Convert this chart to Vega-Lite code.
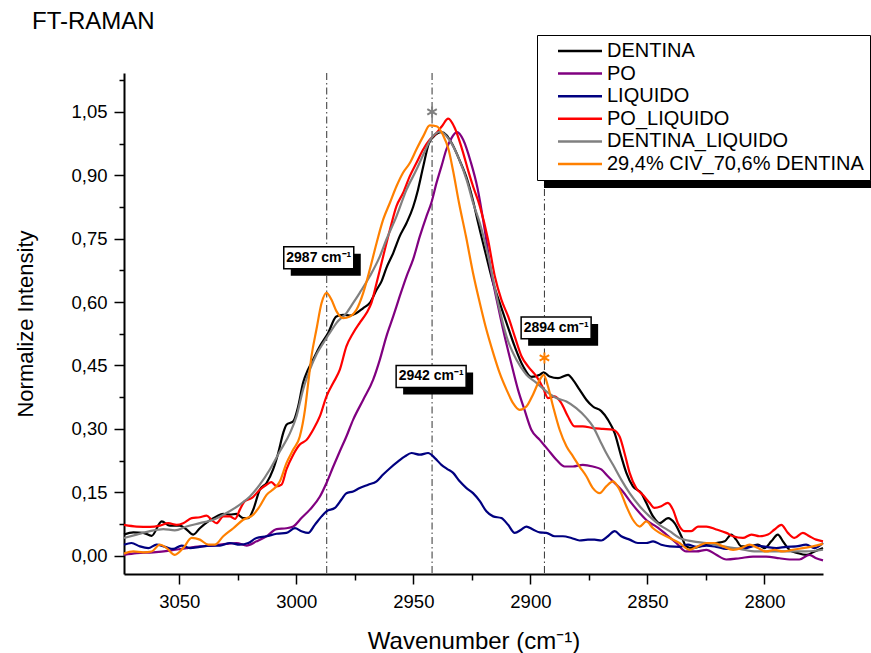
{
  "$schema": "https://vega.github.io/schema/vega-lite/v6.json",
  "width": 699,
  "height": 501,
  "autosize": {"type": "none"},
  "padding": {"left": 124, "top": 73, "right": 48, "bottom": 79},
  "background": "white",
  "config": {"view": {"stroke": null}, "font": "Liberation Sans"},
  "title": {"text": "FT-RAMAN", "anchor": "start", "frame": "group", "orient": "top", "dx": -92, "dy": 3, "offset": 4, "fontSize": 24, "fontWeight": "normal", "color": "black", "font": "Liberation Sans"},
  "datasets": {
    "series": [
      {"n": "DENTINA"}, {"n": "PO"}, {"n": "LIQUIDO"}, {"n": "PO_LIQUIDO"}, {"n": "DENTINA_LIQUIDO"}, {"n": "29,4% CIV_70,6% DENTINA"}
    ],
    "marks": [{"w": 2987}, {"w": 2942}, {"w": 2894}],
    "notes": [
      {"w": 2990.4, "i": 0.705, "t": "2987 cm⁻¹"},
      {"w": 2942.4, "i": 0.424, "t": "2942 cm⁻¹"},
      {"w": 2889.0, "i": 0.539, "t": "2894 cm⁻¹"}
    ],
    "spectra": [
      {"s":"DENTINA","w":3073.6,"i":0.050},{"s":"DENTINA","w":3069.6,"i":0.055},{"s":"DENTINA","w":3065.4,"i":0.054},{"s":"DENTINA","w":3061.8,"i":0.047},{"s":"DENTINA","w":3057.5,"i":0.081},{"s":"DENTINA","w":3054.0,"i":0.071},{"s":"DENTINA","w":3049.7,"i":0.071},{"s":"DENTINA","w":3046.9,"i":0.062},{"s":"DENTINA","w":3044.0,"i":0.050},{"s":"DENTINA","w":3041.2,"i":0.065},{"s":"DENTINA","w":3037.6,"i":0.081},{"s":"DENTINA","w":3034.1,"i":0.093},{"s":"DENTINA","w":3031.2,"i":0.099},{"s":"DENTINA","w":3028.4,"i":0.097},{"s":"DENTINA","w":3025.5,"i":0.099},{"s":"DENTINA","w":3022.7,"i":0.089},{"s":"DENTINA","w":3020.5,"i":0.089},{"s":"DENTINA","w":3018.4,"i":0.109},{"s":"DENTINA","w":3015.6,"i":0.156},{"s":"DENTINA","w":3012.7,"i":0.172},{"s":"DENTINA","w":3009.9,"i":0.204},{"s":"DENTINA","w":3007.7,"i":0.243},{"s":"DENTINA","w":3005.6,"i":0.290},{"s":"DENTINA","w":3004.2,"i":0.310},{"s":"DENTINA","w":3001.3,"i":0.318},{"s":"DENTINA","w":2999.2,"i":0.353},{"s":"DENTINA","w":2997.1,"i":0.409},{"s":"DENTINA","w":2995.0,"i":0.440},{"s":"DENTINA","w":2992.8,"i":0.464},{"s":"DENTINA","w":2990.0,"i":0.495},{"s":"DENTINA","w":2986.4,"i":0.527},{"s":"DENTINA","w":2982.9,"i":0.566},{"s":"DENTINA","w":2980.0,"i":0.570},{"s":"DENTINA","w":2977.1,"i":0.568},{"s":"DENTINA","w":2974.3,"i":0.574},{"s":"DENTINA","w":2971.4,"i":0.586},{"s":"DENTINA","w":2968.6,"i":0.598},{"s":"DENTINA","w":2965.7,"i":0.629},{"s":"DENTINA","w":2963.6,"i":0.649},{"s":"DENTINA","w":2961.5,"i":0.681},{"s":"DENTINA","w":2958.6,"i":0.716},{"s":"DENTINA","w":2955.8,"i":0.756},{"s":"DENTINA","w":2952.9,"i":0.787},{"s":"DENTINA","w":2950.1,"i":0.825},{"s":"DENTINA","w":2948.0,"i":0.866},{"s":"DENTINA","w":2945.8,"i":0.920},{"s":"DENTINA","w":2943.4,"i":0.975},{"s":"DENTINA","w":2940.5,"i":0.996},{"s":"DENTINA","w":2938.2,"i":1.002},{"s":"DENTINA","w":2935.8,"i":0.995},{"s":"DENTINA","w":2933.5,"i":0.975},{"s":"DENTINA","w":2930.2,"i":0.935},{"s":"DENTINA","w":2927.0,"i":0.890},{"s":"DENTINA","w":2924.5,"i":0.840},{"s":"DENTINA","w":2922.3,"i":0.787},{"s":"DENTINA","w":2918.8,"i":0.708},{"s":"DENTINA","w":2915.9,"i":0.645},{"s":"DENTINA","w":2913.1,"i":0.598},{"s":"DENTINA","w":2910.2,"i":0.551},{"s":"DENTINA","w":2906.7,"i":0.495},{"s":"DENTINA","w":2903.1,"i":0.448},{"s":"DENTINA","w":2899.6,"i":0.423},{"s":"DENTINA","w":2896.0,"i":0.428},{"s":"DENTINA","w":2894.3,"i":0.434},{"s":"DENTINA","w":2891.8,"i":0.424},{"s":"DENTINA","w":2888.2,"i":0.420},{"s":"DENTINA","w":2883.9,"i":0.428},{"s":"DENTINA","w":2881.8,"i":0.416},{"s":"DENTINA","w":2879.0,"i":0.393},{"s":"DENTINA","w":2876.1,"i":0.369},{"s":"DENTINA","w":2873.3,"i":0.353},{"s":"DENTINA","w":2869.7,"i":0.342},{"s":"DENTINA","w":2866.9,"i":0.322},{"s":"DENTINA","w":2864.0,"i":0.290},{"s":"DENTINA","w":2861.2,"i":0.235},{"s":"DENTINA","w":2859.0,"i":0.196},{"s":"DENTINA","w":2856.2,"i":0.164},{"s":"DENTINA","w":2852.6,"i":0.148},{"s":"DENTINA","w":2850.5,"i":0.125},{"s":"DENTINA","w":2847.6,"i":0.093},{"s":"DENTINA","w":2844.8,"i":0.077},{"s":"DENTINA","w":2841.2,"i":0.089},{"s":"DENTINA","w":2838.4,"i":0.077},{"s":"DENTINA","w":2835.5,"i":0.046},{"s":"DENTINA","w":2833.4,"i":0.022},{"s":"DENTINA","w":2830.6,"i":0.018},{"s":"DENTINA","w":2827.7,"i":0.022},{"s":"DENTINA","w":2824.8,"i":0.026},{"s":"DENTINA","w":2820.6,"i":0.030},{"s":"DENTINA","w":2817.0,"i":0.034},{"s":"DENTINA","w":2814.2,"i":0.050},{"s":"DENTINA","w":2812.1,"i":0.038},{"s":"DENTINA","w":2809.9,"i":0.022},{"s":"DENTINA","w":2806.4,"i":0.022},{"s":"DENTINA","w":2802.8,"i":0.026},{"s":"DENTINA","w":2800.0,"i":0.018},{"s":"DENTINA","w":2797.1,"i":0.034},{"s":"DENTINA","w":2794.3,"i":0.050},{"s":"DENTINA","w":2792.1,"i":0.034},{"s":"DENTINA","w":2789.3,"i":0.014},{"s":"DENTINA","w":2785.7,"i":0.006},{"s":"DENTINA","w":2782.2,"i":0.002},{"s":"DENTINA","w":2778.6,"i":0.010},{"s":"DENTINA","w":2775.0,"i":0.018},
      {"s":"PO","w":3073.6,"i":0.002},{"s":"PO","w":3068.2,"i":0.006},{"s":"PO","w":3061.1,"i":0.008},{"s":"PO","w":3054.0,"i":0.012},{"s":"PO","w":3046.9,"i":0.018},{"s":"PO","w":3041.2,"i":0.022},{"s":"PO","w":3035.5,"i":0.024},{"s":"PO","w":3029.8,"i":0.028},{"s":"PO","w":3025.5,"i":0.030},{"s":"PO","w":3021.2,"i":0.024},{"s":"PO","w":3017.0,"i":0.034},{"s":"PO","w":3012.7,"i":0.046},{"s":"PO","w":3008.4,"i":0.063},{"s":"PO","w":3004.2,"i":0.065},{"s":"PO","w":3001.3,"i":0.069},{"s":"PO","w":2997.8,"i":0.089},{"s":"PO","w":2994.2,"i":0.109},{"s":"PO","w":2989.9,"i":0.140},{"s":"PO","w":2987.1,"i":0.172},{"s":"PO","w":2984.2,"i":0.211},{"s":"PO","w":2981.4,"i":0.247},{"s":"PO","w":2978.6,"i":0.282},{"s":"PO","w":2975.7,"i":0.322},{"s":"PO","w":2971.4,"i":0.369},{"s":"PO","w":2967.2,"i":0.416},{"s":"PO","w":2964.3,"i":0.464},{"s":"PO","w":2961.5,"i":0.519},{"s":"PO","w":2958.6,"i":0.566},{"s":"PO","w":2955.8,"i":0.614},{"s":"PO","w":2952.9,"i":0.661},{"s":"PO","w":2950.1,"i":0.701},{"s":"PO","w":2947.2,"i":0.756},{"s":"PO","w":2944.4,"i":0.803},{"s":"PO","w":2942.3,"i":0.835},{"s":"PO","w":2940.1,"i":0.882},{"s":"PO","w":2938.0,"i":0.921},{"s":"PO","w":2935.9,"i":0.961},{"s":"PO","w":2933.7,"i":0.988},{"s":"PO","w":2931.3,"i":1.002},{"s":"PO","w":2928.7,"i":0.984},{"s":"PO","w":2925.5,"i":0.932},{"s":"PO","w":2922.6,"i":0.870},{"s":"PO","w":2919.5,"i":0.771},{"s":"PO","w":2916.7,"i":0.669},{"s":"PO","w":2913.8,"i":0.590},{"s":"PO","w":2911.0,"i":0.519},{"s":"PO","w":2908.2,"i":0.456},{"s":"PO","w":2905.3,"i":0.393},{"s":"PO","w":2902.5,"i":0.345},{"s":"PO","w":2899.6,"i":0.298},{"s":"PO","w":2896.0,"i":0.274},{"s":"PO","w":2892.5,"i":0.251},{"s":"PO","w":2888.9,"i":0.227},{"s":"PO","w":2885.4,"i":0.211},{"s":"PO","w":2881.8,"i":0.211},{"s":"PO","w":2877.6,"i":0.215},{"s":"PO","w":2873.3,"i":0.211},{"s":"PO","w":2869.7,"i":0.204},{"s":"PO","w":2866.9,"i":0.188},{"s":"PO","w":2864.0,"i":0.172},{"s":"PO","w":2860.5,"i":0.152},{"s":"PO","w":2856.9,"i":0.125},{"s":"PO","w":2853.3,"i":0.101},{"s":"PO","w":2849.8,"i":0.081},{"s":"PO","w":2846.2,"i":0.069},{"s":"PO","w":2841.9,"i":0.050},{"s":"PO","w":2837.7,"i":0.030},{"s":"PO","w":2833.4,"i":0.010},{"s":"PO","w":2829.1,"i":0.010},{"s":"PO","w":2824.8,"i":0.014},{"s":"PO","w":2820.6,"i":0.002},{"s":"PO","w":2816.3,"i":-0.009},{"s":"PO","w":2810.6,"i":-0.006},{"s":"PO","w":2804.9,"i":-0.002},{"s":"PO","w":2799.3,"i":-0.002},{"s":"PO","w":2793.6,"i":-0.006},{"s":"PO","w":2789.3,"i":-0.009},{"s":"PO","w":2785.1,"i":-0.009},{"s":"PO","w":2780.8,"i":0.002},{"s":"PO","w":2777.9,"i":-0.006},{"s":"PO","w":2775.0,"i":-0.011},
      {"s":"LIQUIDO","w":3073.6,"i":0.026},{"s":"LIQUIDO","w":3070.4,"i":0.030},{"s":"LIQUIDO","w":3066.8,"i":0.022},{"s":"LIQUIDO","w":3063.2,"i":0.018},{"s":"LIQUIDO","w":3059.7,"i":0.026},{"s":"LIQUIDO","w":3056.1,"i":0.021},{"s":"LIQUIDO","w":3052.6,"i":0.016},{"s":"LIQUIDO","w":3049.0,"i":0.024},{"s":"LIQUIDO","w":3045.4,"i":0.018},{"s":"LIQUIDO","w":3041.2,"i":0.021},{"s":"LIQUIDO","w":3036.9,"i":0.024},{"s":"LIQUIDO","w":3032.6,"i":0.024},{"s":"LIQUIDO","w":3028.4,"i":0.030},{"s":"LIQUIDO","w":3024.1,"i":0.026},{"s":"LIQUIDO","w":3020.5,"i":0.030},{"s":"LIQUIDO","w":3017.0,"i":0.042},{"s":"LIQUIDO","w":3012.7,"i":0.046},{"s":"LIQUIDO","w":3008.4,"i":0.052},{"s":"LIQUIDO","w":3004.2,"i":0.054},{"s":"LIQUIDO","w":3000.6,"i":0.065},{"s":"LIQUIDO","w":2997.8,"i":0.058},{"s":"LIQUIDO","w":2994.9,"i":0.054},{"s":"LIQUIDO","w":2992.1,"i":0.073},{"s":"LIQUIDO","w":2989.2,"i":0.093},{"s":"LIQUIDO","w":2987.1,"i":0.105},{"s":"LIQUIDO","w":2983.5,"i":0.113},{"s":"LIQUIDO","w":2980.7,"i":0.133},{"s":"LIQUIDO","w":2978.6,"i":0.148},{"s":"LIQUIDO","w":2975.7,"i":0.152},{"s":"LIQUIDO","w":2972.9,"i":0.160},{"s":"LIQUIDO","w":2969.3,"i":0.168},{"s":"LIQUIDO","w":2965.7,"i":0.176},{"s":"LIQUIDO","w":2962.9,"i":0.192},{"s":"LIQUIDO","w":2960.0,"i":0.207},{"s":"LIQUIDO","w":2956.5,"i":0.223},{"s":"LIQUIDO","w":2953.6,"i":0.235},{"s":"LIQUIDO","w":2950.8,"i":0.243},{"s":"LIQUIDO","w":2947.2,"i":0.239},{"s":"LIQUIDO","w":2943.7,"i":0.243},{"s":"LIQUIDO","w":2940.8,"i":0.231},{"s":"LIQUIDO","w":2938.0,"i":0.215},{"s":"LIQUIDO","w":2935.5,"i":0.205},{"s":"LIQUIDO","w":2933.0,"i":0.196},{"s":"LIQUIDO","w":2930.2,"i":0.176},{"s":"LIQUIDO","w":2927.3,"i":0.160},{"s":"LIQUIDO","w":2924.5,"i":0.148},{"s":"LIQUIDO","w":2921.6,"i":0.129},{"s":"LIQUIDO","w":2918.8,"i":0.105},{"s":"LIQUIDO","w":2915.9,"i":0.093},{"s":"LIQUIDO","w":2912.4,"i":0.089},{"s":"LIQUIDO","w":2909.5,"i":0.073},{"s":"LIQUIDO","w":2906.7,"i":0.054},{"s":"LIQUIDO","w":2903.8,"i":0.062},{"s":"LIQUIDO","w":2901.7,"i":0.069},{"s":"LIQUIDO","w":2898.9,"i":0.062},{"s":"LIQUIDO","w":2896.0,"i":0.055},{"s":"LIQUIDO","w":2893.2,"i":0.054},{"s":"LIQUIDO","w":2889.6,"i":0.046},{"s":"LIQUIDO","w":2886.1,"i":0.046},{"s":"LIQUIDO","w":2882.5,"i":0.042},{"s":"LIQUIDO","w":2879.0,"i":0.036},{"s":"LIQUIDO","w":2875.4,"i":0.038},{"s":"LIQUIDO","w":2872.6,"i":0.038},{"s":"LIQUIDO","w":2869.7,"i":0.036},{"s":"LIQUIDO","w":2866.9,"i":0.046},{"s":"LIQUIDO","w":2864.0,"i":0.058},{"s":"LIQUIDO","w":2861.2,"i":0.046},{"s":"LIQUIDO","w":2857.6,"i":0.038},{"s":"LIQUIDO","w":2854.1,"i":0.030},{"s":"LIQUIDO","w":2850.5,"i":0.030},{"s":"LIQUIDO","w":2847.6,"i":0.034},{"s":"LIQUIDO","w":2844.1,"i":0.026},{"s":"LIQUIDO","w":2840.5,"i":0.022},{"s":"LIQUIDO","w":2836.3,"i":0.021},{"s":"LIQUIDO","w":2832.7,"i":0.026},{"s":"LIQUIDO","w":2829.1,"i":0.021},{"s":"LIQUIDO","w":2824.8,"i":0.024},{"s":"LIQUIDO","w":2820.6,"i":0.021},{"s":"LIQUIDO","w":2816.3,"i":0.016},{"s":"LIQUIDO","w":2812.0,"i":0.016},{"s":"LIQUIDO","w":2807.8,"i":0.018},{"s":"LIQUIDO","w":2803.5,"i":0.024},{"s":"LIQUIDO","w":2799.3,"i":0.021},{"s":"LIQUIDO","w":2795.0,"i":0.018},{"s":"LIQUIDO","w":2790.7,"i":0.021},{"s":"LIQUIDO","w":2786.5,"i":0.022},{"s":"LIQUIDO","w":2782.2,"i":0.026},{"s":"LIQUIDO","w":2778.6,"i":0.018},{"s":"LIQUIDO","w":2775.0,"i":0.030},
      {"s":"PO_LIQUIDO","w":3073.6,"i":0.073},{"s":"PO_LIQUIDO","w":3068.2,"i":0.069},{"s":"PO_LIQUIDO","w":3062.5,"i":0.068},{"s":"PO_LIQUIDO","w":3058.3,"i":0.071},{"s":"PO_LIQUIDO","w":3054.7,"i":0.077},{"s":"PO_LIQUIDO","w":3051.1,"i":0.073},{"s":"PO_LIQUIDO","w":3048.3,"i":0.077},{"s":"PO_LIQUIDO","w":3044.7,"i":0.089},{"s":"PO_LIQUIDO","w":3041.2,"i":0.091},{"s":"PO_LIQUIDO","w":3038.3,"i":0.095},{"s":"PO_LIQUIDO","w":3036.2,"i":0.085},{"s":"PO_LIQUIDO","w":3034.1,"i":0.077},{"s":"PO_LIQUIDO","w":3031.2,"i":0.093},{"s":"PO_LIQUIDO","w":3028.4,"i":0.093},{"s":"PO_LIQUIDO","w":3026.2,"i":0.087},{"s":"PO_LIQUIDO","w":3024.1,"i":0.109},{"s":"PO_LIQUIDO","w":3022.0,"i":0.129},{"s":"PO_LIQUIDO","w":3019.1,"i":0.136},{"s":"PO_LIQUIDO","w":3015.6,"i":0.156},{"s":"PO_LIQUIDO","w":3012.7,"i":0.168},{"s":"PO_LIQUIDO","w":3010.6,"i":0.174},{"s":"PO_LIQUIDO","w":3008.4,"i":0.164},{"s":"PO_LIQUIDO","w":3006.3,"i":0.168},{"s":"PO_LIQUIDO","w":3004.2,"i":0.204},{"s":"PO_LIQUIDO","w":3001.3,"i":0.239},{"s":"PO_LIQUIDO","w":2998.5,"i":0.263},{"s":"PO_LIQUIDO","w":2995.6,"i":0.274},{"s":"PO_LIQUIDO","w":2992.8,"i":0.298},{"s":"PO_LIQUIDO","w":2989.9,"i":0.330},{"s":"PO_LIQUIDO","w":2987.1,"i":0.377},{"s":"PO_LIQUIDO","w":2984.2,"i":0.409},{"s":"PO_LIQUIDO","w":2981.4,"i":0.440},{"s":"PO_LIQUIDO","w":2978.6,"i":0.495},{"s":"PO_LIQUIDO","w":2975.7,"i":0.527},{"s":"PO_LIQUIDO","w":2972.9,"i":0.551},{"s":"PO_LIQUIDO","w":2970.0,"i":0.574},{"s":"PO_LIQUIDO","w":2967.9,"i":0.598},{"s":"PO_LIQUIDO","w":2965.7,"i":0.645},{"s":"PO_LIQUIDO","w":2962.9,"i":0.708},{"s":"PO_LIQUIDO","w":2960.0,"i":0.771},{"s":"PO_LIQUIDO","w":2957.2,"i":0.827},{"s":"PO_LIQUIDO","w":2954.4,"i":0.858},{"s":"PO_LIQUIDO","w":2951.5,"i":0.898},{"s":"PO_LIQUIDO","w":2948.7,"i":0.929},{"s":"PO_LIQUIDO","w":2945.8,"i":0.961},{"s":"PO_LIQUIDO","w":2943.0,"i":0.984},{"s":"PO_LIQUIDO","w":2940.1,"i":1.000},{"s":"PO_LIQUIDO","w":2937.8,"i":1.016},{"s":"PO_LIQUIDO","w":2935.1,"i":1.034},{"s":"PO_LIQUIDO","w":2932.3,"i":1.012},{"s":"PO_LIQUIDO","w":2929.2,"i":0.962},{"s":"PO_LIQUIDO","w":2926.5,"i":0.910},{"s":"PO_LIQUIDO","w":2924.5,"i":0.874},{"s":"PO_LIQUIDO","w":2921.6,"i":0.827},{"s":"PO_LIQUIDO","w":2918.1,"i":0.748},{"s":"PO_LIQUIDO","w":2915.2,"i":0.661},{"s":"PO_LIQUIDO","w":2912.4,"i":0.606},{"s":"PO_LIQUIDO","w":2909.5,"i":0.566},{"s":"PO_LIQUIDO","w":2906.7,"i":0.519},{"s":"PO_LIQUIDO","w":2903.8,"i":0.472},{"s":"PO_LIQUIDO","w":2901.0,"i":0.448},{"s":"PO_LIQUIDO","w":2897.4,"i":0.424},{"s":"PO_LIQUIDO","w":2894.6,"i":0.397},{"s":"PO_LIQUIDO","w":2892.5,"i":0.373},{"s":"PO_LIQUIDO","w":2889.6,"i":0.377},{"s":"PO_LIQUIDO","w":2886.8,"i":0.361},{"s":"PO_LIQUIDO","w":2884.0,"i":0.330},{"s":"PO_LIQUIDO","w":2881.1,"i":0.306},{"s":"PO_LIQUIDO","w":2877.6,"i":0.306},{"s":"PO_LIQUIDO","w":2873.3,"i":0.302},{"s":"PO_LIQUIDO","w":2869.0,"i":0.300},{"s":"PO_LIQUIDO","w":2864.7,"i":0.298},{"s":"PO_LIQUIDO","w":2861.9,"i":0.282},{"s":"PO_LIQUIDO","w":2859.8,"i":0.243},{"s":"PO_LIQUIDO","w":2857.6,"i":0.196},{"s":"PO_LIQUIDO","w":2854.8,"i":0.160},{"s":"PO_LIQUIDO","w":2852.0,"i":0.144},{"s":"PO_LIQUIDO","w":2849.1,"i":0.125},{"s":"PO_LIQUIDO","w":2847.0,"i":0.113},{"s":"PO_LIQUIDO","w":2844.1,"i":0.117},{"s":"PO_LIQUIDO","w":2841.3,"i":0.125},{"s":"PO_LIQUIDO","w":2839.1,"i":0.109},{"s":"PO_LIQUIDO","w":2837.0,"i":0.077},{"s":"PO_LIQUIDO","w":2834.1,"i":0.058},{"s":"PO_LIQUIDO","w":2831.3,"i":0.058},{"s":"PO_LIQUIDO","w":2828.4,"i":0.069},{"s":"PO_LIQUIDO","w":2824.8,"i":0.069},{"s":"PO_LIQUIDO","w":2820.6,"i":0.062},{"s":"PO_LIQUIDO","w":2816.3,"i":0.054},{"s":"PO_LIQUIDO","w":2813.4,"i":0.046},{"s":"PO_LIQUIDO","w":2809.2,"i":0.042},{"s":"PO_LIQUIDO","w":2805.6,"i":0.050},{"s":"PO_LIQUIDO","w":2802.1,"i":0.046},{"s":"PO_LIQUIDO","w":2798.5,"i":0.050},{"s":"PO_LIQUIDO","w":2795.7,"i":0.062},{"s":"PO_LIQUIDO","w":2792.8,"i":0.073},{"s":"PO_LIQUIDO","w":2790.0,"i":0.054},{"s":"PO_LIQUIDO","w":2787.2,"i":0.042},{"s":"PO_LIQUIDO","w":2783.6,"i":0.054},{"s":"PO_LIQUIDO","w":2780.8,"i":0.046},{"s":"PO_LIQUIDO","w":2777.9,"i":0.038},{"s":"PO_LIQUIDO","w":2775.0,"i":0.034},
      {"s":"DENTINA_LIQUIDO","w":3073.6,"i":0.042},{"s":"DENTINA_LIQUIDO","w":3068.2,"i":0.050},{"s":"DENTINA_LIQUIDO","w":3062.5,"i":0.058},{"s":"DENTINA_LIQUIDO","w":3056.8,"i":0.063},{"s":"DENTINA_LIQUIDO","w":3051.9,"i":0.060},{"s":"DENTINA_LIQUIDO","w":3046.9,"i":0.069},{"s":"DENTINA_LIQUIDO","w":3041.2,"i":0.077},{"s":"DENTINA_LIQUIDO","w":3035.5,"i":0.085},{"s":"DENTINA_LIQUIDO","w":3029.8,"i":0.101},{"s":"DENTINA_LIQUIDO","w":3024.1,"i":0.121},{"s":"DENTINA_LIQUIDO","w":3019.8,"i":0.140},{"s":"DENTINA_LIQUIDO","w":3015.6,"i":0.168},{"s":"DENTINA_LIQUIDO","w":3011.3,"i":0.204},{"s":"DENTINA_LIQUIDO","w":3007.0,"i":0.247},{"s":"DENTINA_LIQUIDO","w":3002.7,"i":0.290},{"s":"DENTINA_LIQUIDO","w":2999.9,"i":0.330},{"s":"DENTINA_LIQUIDO","w":2997.1,"i":0.393},{"s":"DENTINA_LIQUIDO","w":2994.2,"i":0.440},{"s":"DENTINA_LIQUIDO","w":2991.4,"i":0.476},{"s":"DENTINA_LIQUIDO","w":2988.5,"i":0.503},{"s":"DENTINA_LIQUIDO","w":2985.7,"i":0.527},{"s":"DENTINA_LIQUIDO","w":2982.8,"i":0.551},{"s":"DENTINA_LIQUIDO","w":2978.6,"i":0.574},{"s":"DENTINA_LIQUIDO","w":2975.7,"i":0.598},{"s":"DENTINA_LIQUIDO","w":2972.9,"i":0.622},{"s":"DENTINA_LIQUIDO","w":2968.6,"i":0.661},{"s":"DENTINA_LIQUIDO","w":2964.3,"i":0.708},{"s":"DENTINA_LIQUIDO","w":2961.5,"i":0.748},{"s":"DENTINA_LIQUIDO","w":2957.2,"i":0.803},{"s":"DENTINA_LIQUIDO","w":2952.9,"i":0.866},{"s":"DENTINA_LIQUIDO","w":2948.7,"i":0.913},{"s":"DENTINA_LIQUIDO","w":2945.1,"i":0.957},{"s":"DENTINA_LIQUIDO","w":2942.3,"i":0.988},{"s":"DENTINA_LIQUIDO","w":2938.5,"i":1.003},{"s":"DENTINA_LIQUIDO","w":2934.4,"i":0.982},{"s":"DENTINA_LIQUIDO","w":2930.6,"i":0.940},{"s":"DENTINA_LIQUIDO","w":2927.0,"i":0.885},{"s":"DENTINA_LIQUIDO","w":2924.5,"i":0.835},{"s":"DENTINA_LIQUIDO","w":2921.6,"i":0.787},{"s":"DENTINA_LIQUIDO","w":2917.4,"i":0.693},{"s":"DENTINA_LIQUIDO","w":2913.8,"i":0.598},{"s":"DENTINA_LIQUIDO","w":2910.2,"i":0.519},{"s":"DENTINA_LIQUIDO","w":2906.0,"i":0.464},{"s":"DENTINA_LIQUIDO","w":2901.7,"i":0.428},{"s":"DENTINA_LIQUIDO","w":2897.4,"i":0.409},{"s":"DENTINA_LIQUIDO","w":2893.2,"i":0.389},{"s":"DENTINA_LIQUIDO","w":2888.9,"i":0.373},{"s":"DENTINA_LIQUIDO","w":2884.6,"i":0.365},{"s":"DENTINA_LIQUIDO","w":2880.4,"i":0.349},{"s":"DENTINA_LIQUIDO","w":2876.1,"i":0.326},{"s":"DENTINA_LIQUIDO","w":2873.3,"i":0.306},{"s":"DENTINA_LIQUIDO","w":2870.4,"i":0.274},{"s":"DENTINA_LIQUIDO","w":2867.6,"i":0.243},{"s":"DENTINA_LIQUIDO","w":2864.7,"i":0.215},{"s":"DENTINA_LIQUIDO","w":2861.2,"i":0.180},{"s":"DENTINA_LIQUIDO","w":2857.6,"i":0.148},{"s":"DENTINA_LIQUIDO","w":2853.3,"i":0.117},{"s":"DENTINA_LIQUIDO","w":2849.1,"i":0.093},{"s":"DENTINA_LIQUIDO","w":2844.8,"i":0.073},{"s":"DENTINA_LIQUIDO","w":2840.5,"i":0.058},{"s":"DENTINA_LIQUIDO","w":2836.3,"i":0.042},{"s":"DENTINA_LIQUIDO","w":2830.6,"i":0.034},{"s":"DENTINA_LIQUIDO","w":2824.8,"i":0.030},{"s":"DENTINA_LIQUIDO","w":2817.7,"i":0.022},{"s":"DENTINA_LIQUIDO","w":2810.6,"i":0.016},{"s":"DENTINA_LIQUIDO","w":2803.5,"i":0.010},{"s":"DENTINA_LIQUIDO","w":2796.4,"i":0.010},{"s":"DENTINA_LIQUIDO","w":2789.3,"i":0.010},{"s":"DENTINA_LIQUIDO","w":2782.2,"i":0.010},{"s":"DENTINA_LIQUIDO","w":2775.0,"i":0.014},
      {"s":"29,4% CIV_70,6% DENTINA","w":3073.6,"i":0.005},{"s":"29,4% CIV_70,6% DENTINA","w":3069.6,"i":0.010},{"s":"29,4% CIV_70,6% DENTINA","w":3065.4,"i":0.008},{"s":"29,4% CIV_70,6% DENTINA","w":3061.8,"i":0.010},{"s":"29,4% CIV_70,6% DENTINA","w":3058.3,"i":0.026},{"s":"29,4% CIV_70,6% DENTINA","w":3055.4,"i":0.018},{"s":"29,4% CIV_70,6% DENTINA","w":3051.9,"i":0.002},{"s":"29,4% CIV_70,6% DENTINA","w":3048.3,"i":0.018},{"s":"29,4% CIV_70,6% DENTINA","w":3044.7,"i":0.042},{"s":"29,4% CIV_70,6% DENTINA","w":3041.2,"i":0.038},{"s":"29,4% CIV_70,6% DENTINA","w":3037.6,"i":0.026},{"s":"29,4% CIV_70,6% DENTINA","w":3034.8,"i":0.026},{"s":"29,4% CIV_70,6% DENTINA","w":3031.2,"i":0.046},{"s":"29,4% CIV_70,6% DENTINA","w":3026.9,"i":0.065},{"s":"29,4% CIV_70,6% DENTINA","w":3022.7,"i":0.085},{"s":"29,4% CIV_70,6% DENTINA","w":3018.4,"i":0.097},{"s":"29,4% CIV_70,6% DENTINA","w":3015.6,"i":0.117},{"s":"29,4% CIV_70,6% DENTINA","w":3012.7,"i":0.144},{"s":"29,4% CIV_70,6% DENTINA","w":3009.2,"i":0.160},{"s":"29,4% CIV_70,6% DENTINA","w":3007.0,"i":0.176},{"s":"29,4% CIV_70,6% DENTINA","w":3004.2,"i":0.219},{"s":"29,4% CIV_70,6% DENTINA","w":3001.3,"i":0.251},{"s":"29,4% CIV_70,6% DENTINA","w":2998.5,"i":0.282},{"s":"29,4% CIV_70,6% DENTINA","w":2996.3,"i":0.345},{"s":"29,4% CIV_70,6% DENTINA","w":2994.9,"i":0.409},{"s":"29,4% CIV_70,6% DENTINA","w":2993.5,"i":0.472},{"s":"29,4% CIV_70,6% DENTINA","w":2991.4,"i":0.535},{"s":"29,4% CIV_70,6% DENTINA","w":2989.2,"i":0.598},{"s":"29,4% CIV_70,6% DENTINA","w":2987.1,"i":0.622},{"s":"29,4% CIV_70,6% DENTINA","w":2985.0,"i":0.606},{"s":"29,4% CIV_70,6% DENTINA","w":2982.8,"i":0.578},{"s":"29,4% CIV_70,6% DENTINA","w":2980.0,"i":0.562},{"s":"29,4% CIV_70,6% DENTINA","w":2977.1,"i":0.566},{"s":"29,4% CIV_70,6% DENTINA","w":2974.3,"i":0.582},{"s":"29,4% CIV_70,6% DENTINA","w":2971.4,"i":0.622},{"s":"29,4% CIV_70,6% DENTINA","w":2968.6,"i":0.677},{"s":"29,4% CIV_70,6% DENTINA","w":2965.7,"i":0.740},{"s":"29,4% CIV_70,6% DENTINA","w":2962.9,"i":0.795},{"s":"29,4% CIV_70,6% DENTINA","w":2960.0,"i":0.835},{"s":"29,4% CIV_70,6% DENTINA","w":2957.2,"i":0.874},{"s":"29,4% CIV_70,6% DENTINA","w":2954.4,"i":0.906},{"s":"29,4% CIV_70,6% DENTINA","w":2951.5,"i":0.929},{"s":"29,4% CIV_70,6% DENTINA","w":2948.7,"i":0.961},{"s":"29,4% CIV_70,6% DENTINA","w":2945.8,"i":0.992},{"s":"29,4% CIV_70,6% DENTINA","w":2943.0,"i":1.018},{"s":"29,4% CIV_70,6% DENTINA","w":2940.1,"i":1.016},{"s":"29,4% CIV_70,6% DENTINA","w":2937.3,"i":0.995},{"s":"29,4% CIV_70,6% DENTINA","w":2935.0,"i":0.962},{"s":"29,4% CIV_70,6% DENTINA","w":2933.0,"i":0.910},{"s":"29,4% CIV_70,6% DENTINA","w":2930.5,"i":0.835},{"s":"29,4% CIV_70,6% DENTINA","w":2927.5,"i":0.755},{"s":"29,4% CIV_70,6% DENTINA","w":2924.5,"i":0.669},{"s":"29,4% CIV_70,6% DENTINA","w":2921.6,"i":0.598},{"s":"29,4% CIV_70,6% DENTINA","w":2918.8,"i":0.535},{"s":"29,4% CIV_70,6% DENTINA","w":2915.9,"i":0.480},{"s":"29,4% CIV_70,6% DENTINA","w":2913.1,"i":0.432},{"s":"29,4% CIV_70,6% DENTINA","w":2910.2,"i":0.393},{"s":"29,4% CIV_70,6% DENTINA","w":2907.4,"i":0.361},{"s":"29,4% CIV_70,6% DENTINA","w":2904.6,"i":0.345},{"s":"29,4% CIV_70,6% DENTINA","w":2901.7,"i":0.353},{"s":"29,4% CIV_70,6% DENTINA","w":2898.9,"i":0.381},{"s":"29,4% CIV_70,6% DENTINA","w":2896.0,"i":0.416},{"s":"29,4% CIV_70,6% DENTINA","w":2894.3,"i":0.428},{"s":"29,4% CIV_70,6% DENTINA","w":2892.5,"i":0.401},{"s":"29,4% CIV_70,6% DENTINA","w":2890.3,"i":0.353},{"s":"29,4% CIV_70,6% DENTINA","w":2887.5,"i":0.298},{"s":"29,4% CIV_70,6% DENTINA","w":2884.6,"i":0.259},{"s":"29,4% CIV_70,6% DENTINA","w":2881.8,"i":0.235},{"s":"29,4% CIV_70,6% DENTINA","w":2879.0,"i":0.211},{"s":"29,4% CIV_70,6% DENTINA","w":2876.1,"i":0.188},{"s":"29,4% CIV_70,6% DENTINA","w":2873.3,"i":0.160},{"s":"29,4% CIV_70,6% DENTINA","w":2870.4,"i":0.148},{"s":"29,4% CIV_70,6% DENTINA","w":2867.6,"i":0.164},{"s":"29,4% CIV_70,6% DENTINA","w":2864.7,"i":0.176},{"s":"29,4% CIV_70,6% DENTINA","w":2861.9,"i":0.156},{"s":"29,4% CIV_70,6% DENTINA","w":2859.0,"i":0.117},{"s":"29,4% CIV_70,6% DENTINA","w":2856.2,"i":0.085},{"s":"29,4% CIV_70,6% DENTINA","w":2853.3,"i":0.069},{"s":"29,4% CIV_70,6% DENTINA","w":2850.5,"i":0.081},{"s":"29,4% CIV_70,6% DENTINA","w":2847.6,"i":0.065},{"s":"29,4% CIV_70,6% DENTINA","w":2844.8,"i":0.054},{"s":"29,4% CIV_70,6% DENTINA","w":2840.5,"i":0.042},{"s":"29,4% CIV_70,6% DENTINA","w":2836.3,"i":0.030},{"s":"29,4% CIV_70,6% DENTINA","w":2832.0,"i":0.014},{"s":"29,4% CIV_70,6% DENTINA","w":2828.5,"i":0.022},{"s":"29,4% CIV_70,6% DENTINA","w":2824.8,"i":0.030},{"s":"29,4% CIV_70,6% DENTINA","w":2821.3,"i":0.030},{"s":"29,4% CIV_70,6% DENTINA","w":2817.7,"i":0.022},{"s":"29,4% CIV_70,6% DENTINA","w":2813.4,"i":0.014},{"s":"29,4% CIV_70,6% DENTINA","w":2809.9,"i":0.018},{"s":"29,4% CIV_70,6% DENTINA","w":2806.4,"i":0.026},{"s":"29,4% CIV_70,6% DENTINA","w":2802.8,"i":0.018},{"s":"29,4% CIV_70,6% DENTINA","w":2799.3,"i":0.010},{"s":"29,4% CIV_70,6% DENTINA","w":2795.7,"i":0.014},{"s":"29,4% CIV_70,6% DENTINA","w":2792.2,"i":0.010},{"s":"29,4% CIV_70,6% DENTINA","w":2787.9,"i":0.014},{"s":"29,4% CIV_70,6% DENTINA","w":2783.6,"i":0.018},{"s":"29,4% CIV_70,6% DENTINA","w":2779.3,"i":0.022},{"s":"29,4% CIV_70,6% DENTINA","w":2775.0,"i":0.028}
    ]
  },
  "resolve": {"axis": {"x": "independent", "y": "independent"}},
  "layer": [
    {
      "data": {"name": "marks"},
      "mark": {"type": "rule", "color": "#333333", "strokeWidth": 1, "strokeDash": [7, 3, 1.5, 3]},
      "encoding": {
        "x": {"field": "w", "type": "quantitative",
          "axis": {"orient": "bottom", "values": [3025, 2975, 2925, 2875, 2825], "labels": false, "domain": false, "grid": false, "tickSize": 6, "tickWidth": 1.5, "tickColor": "black", "title": null}}
      }
    },
    {
      "data": {"name": "spectra"},
      "mark": {"type": "line", "interpolate": "monotone", "strokeWidth": 2.2},
      "encoding": {
        "x": {"field": "w", "type": "quantitative",
          "scale": {"domain": [2775, 3073.6], "reverse": true, "nice": false, "zero": false},
          "axis": {"orient": "bottom", "values": [3050, 3000, 2950, 2900, 2850, 2800], "format": "d", "grid": false,
            "domainColor": "black", "domainWidth": 2, "tickColor": "black", "tickWidth": 1.5, "tickSize": 10,
            "labelFont": "Liberation Sans", "labelFontSize": 18.5, "labelColor": "black", "labelPadding": 8.5, "labelFlush": false, "labelOverlap": false,
            "title": "Wavenumber (cm⁻¹)", "titleFont": "Liberation Sans", "titleFontSize": 24, "titleFontWeight": "normal", "titleColor": "black", "titlePadding": 18}},
        "y": {"field": "i", "type": "quantitative",
          "scale": {"domain": [-0.0433, 1.142], "nice": false, "zero": false},
          "axis": {"orient": "left", "values": [0, 0.15, 0.3, 0.45, 0.6, 0.75, 0.9, 1.05], "labelExpr": "replace(format(datum.value, '.2f'), '.', ',')", "grid": false,
            "domainColor": "black", "domainWidth": 2, "tickColor": "black", "tickWidth": 1.5, "tickSize": 10,
            "labelFont": "Liberation Sans", "labelFontSize": 18.5, "labelColor": "black", "labelPadding": 7, "labelFlush": false, "labelOverlap": false,
            "title": "Normalize Intensity", "titleFont": "Liberation Sans", "titleFontSize": 22, "titleFontWeight": "normal", "titleColor": "black", "titlePadding": 33}},
        "color": {"field": "s", "type": "nominal",
          "scale": {"domain": ["DENTINA", "PO", "LIQUIDO", "PO_LIQUIDO", "DENTINA_LIQUIDO", "29,4% CIV_70,6% DENTINA"],
                    "range": ["#000000", "#800080", "#000080", "#ff0000", "#808080", "#ff8000"]},
          "legend": {"title": null, "orient": "none", "legendX": 413, "legendY": -38, "zindex": 2,
            "fillColor": "white", "strokeColor": "black", "padding": 6, "rowPadding": 2.6,
            "symbolType": "M-22,0H22", "symbolSize": 4, "symbolStrokeWidth": 2.5, "symbolOffset": 27,
            "labelOffset": 17, "labelFont": "Liberation Sans", "labelFontSize": 20, "labelColor": "black", "labelLimit": 0}},
        "order": {"field": "w", "type": "quantitative", "sort": "descending"}
      }
    },
    {
      "data": {"name": "series"},
      "transform": [{"filter": "false"}],
      "mark": {"type": "point", "filled": true, "color": "black"},
      "encoding": {
        "shape": {"field": "n", "type": "nominal",
          "scale": {"domain": ["29,4% CIV_70,6% DENTINA", "DENTINA_LIQUIDO", "PO_LIQUIDO", "LIQUIDO", "PO", "DENTINA"],
                    "range": ["M-164,-73H164V73H-164Z", "M-164,-73H164V73H-164Z", "M-164,-73H164V73H-164Z", "M-164,-73H164V73H-164Z", "M-164,-73H164V73H-164Z", "M-164,-73H164V73H-164Z"]},
          "legend": {"title": null, "orient": "none", "legendX": 583, "legendY": 41, "zindex": 1, "values": ["DENTINA"],
            "padding": 0, "symbolSize": 4, "symbolStrokeWidth": 0, "symbolFillColor": "black", "symbolOpacity": 1, "symbolOffset": 0,
            "labelExpr": "''", "labelOffset": 0, "labelFontSize": 1, "labelLimit": 0}}
      }
    },
    {
      "data": {"name": "notes"},
      "mark": {"type": "point", "shape": "M-1,-0.314H1V0.314H-1Z", "size": 4900, "filled": true, "color": "black", "opacity": 1, "xOffset": 7, "yOffset": 7},
      "encoding": {
        "x": {"field": "w", "type": "quantitative", "axis": null},
        "y": {"field": "i", "type": "quantitative",
          "axis": {"orient": "left", "values": [0.075, 0.225, 0.375, 0.525, 0.675, 0.825, 0.975, 1.125], "labels": false, "domain": false, "grid": false, "tickSize": 5, "tickWidth": 1.5, "tickColor": "black", "title": null}}
      }
    },
    {
      "data": {"name": "notes"},
      "mark": {"type": "point", "shape": "M-1,-0.314H1V0.314H-1Z", "size": 4900, "filled": true, "fill": "white", "stroke": "black", "strokeWidth": 1.5, "opacity": 1},
      "encoding": {
        "x": {"field": "w", "type": "quantitative", "axis": null},
        "y": {"field": "i", "type": "quantitative", "axis": null}
      }
    },
    {
      "data": {"name": "notes"},
      "mark": {"type": "text", "font": "Liberation Sans", "fontSize": 14, "fontWeight": "bold", "color": "black", "align": "center", "baseline": "middle"},
      "encoding": {
        "x": {"field": "w", "type": "quantitative", "axis": null},
        "y": {"field": "i", "type": "quantitative", "axis": null},
        "text": {"field": "t"}
      }
    },
    {
      "data": {"values": [{"w": 2942, "i": 1.05}]},
      "mark": {"type": "point", "shape": "M0,-1V1M-0.866,-0.5L0.866,0.5M-0.866,0.5L0.866,-0.5", "size": 121, "filled": false, "stroke": "#808080", "strokeWidth": 2, "opacity": 1},
      "encoding": {
        "x": {"field": "w", "type": "quantitative", "axis": null},
        "y": {"field": "i", "type": "quantitative", "axis": null}
      }
    },
    {
      "data": {"values": [{"w": 2894, "i": 0.468}]},
      "mark": {"type": "point", "shape": "M0,-1V1M-0.866,-0.5L0.866,0.5M-0.866,0.5L0.866,-0.5", "size": 121, "filled": false, "stroke": "#ff8000", "strokeWidth": 2, "opacity": 1},
      "encoding": {
        "x": {"field": "w", "type": "quantitative", "axis": null},
        "y": {"field": "i", "type": "quantitative", "axis": null}
      }
    }
  ]
}
